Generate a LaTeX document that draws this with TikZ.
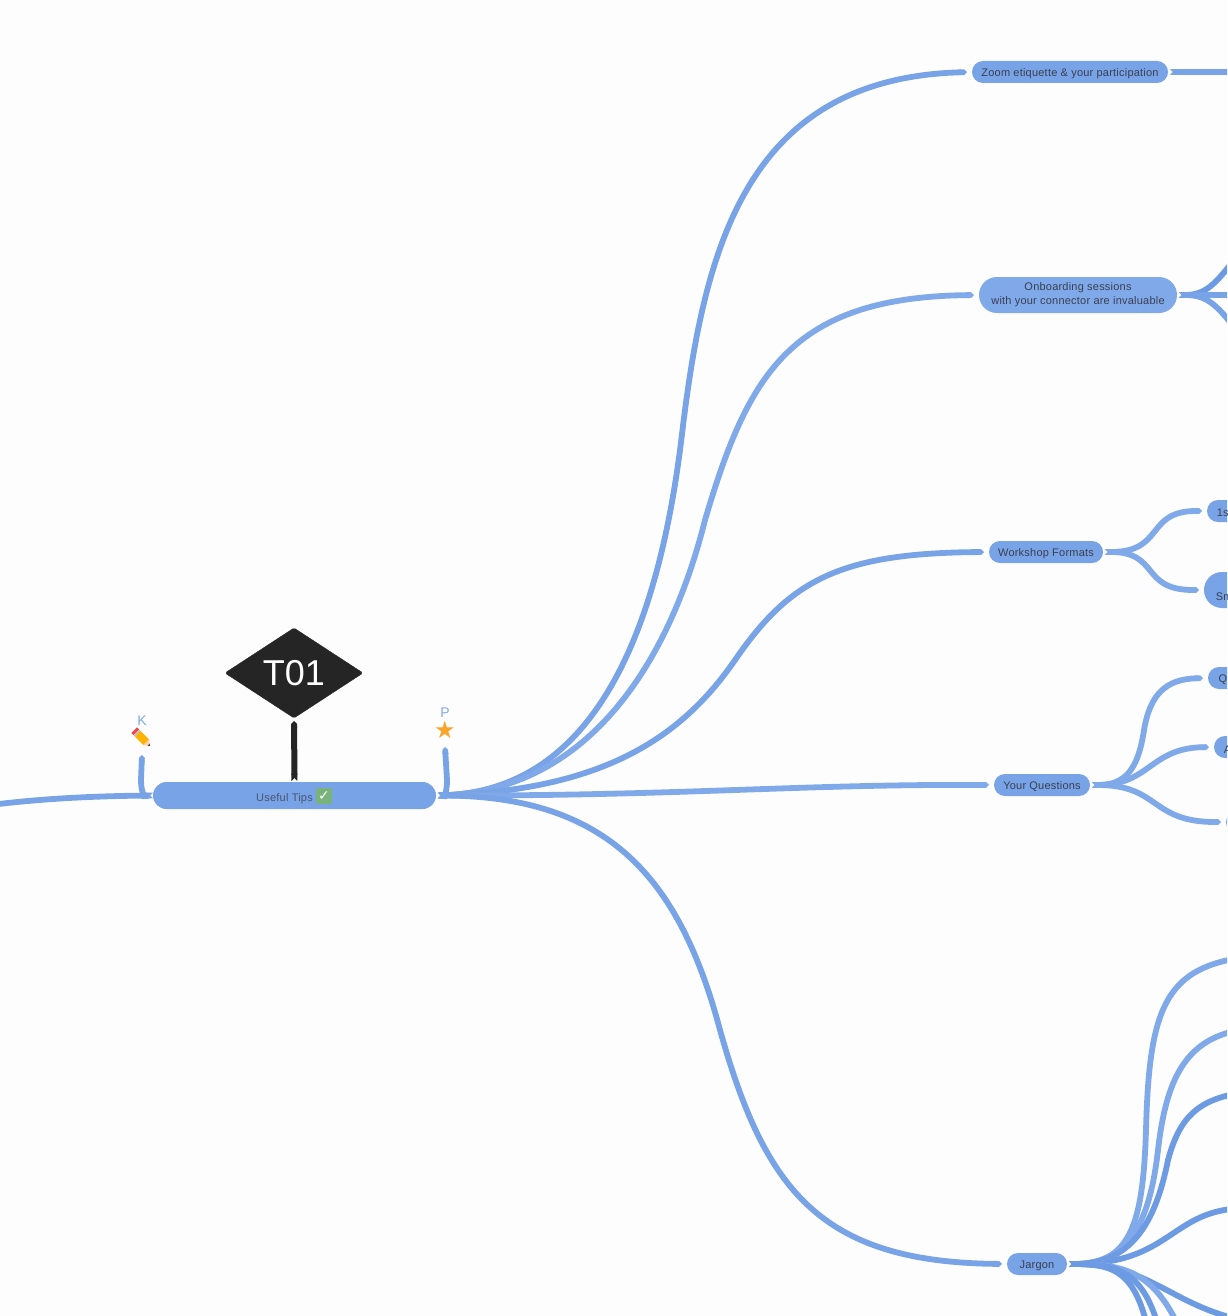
\documentclass[tikz,border=0pt]{standalone}
\usepackage{fontspec}
\setmainfont[LetterSpace=2]{Liberation Sans}
\newfontfamily\plainfont{Liberation Sans}
\newfontfamily\symbfont{DejaVu Sans}
\usetikzlibrary{arrows.meta,shapes.geometric,shapes.misc}

\definecolor{pagegray}{HTML}{FDFDFD}
\definecolor{mapblue}{HTML}{78A3E6}
\definecolor{softblue}{HTML}{80A9E9}
\definecolor{deepblue}{HTML}{6C9BE3}
\definecolor{inkgray}{HTML}{3A3F52}
\definecolor{tipsgray}{HTML}{4A5570}
\definecolor{signblack}{HTML}{252525}
\definecolor{checkgreen}{HTML}{79B27B}
\definecolor{staramber}{HTML}{F9A52B}

\tikzset{
	pillbox/.style={rounded rectangle, fill=mapblue, text=inkgray, inner sep=0pt, outer sep=0pt, font=\fontsize{11}{14}\selectfont},
	topicbox/.style={pillbox, align=center, execute at begin node={\rule{0pt}{12pt}}},
	cutbox/.style={pillbox, rounded rectangle right arc=none, anchor=west, minimum height=22pt, text width=40pt, inner xsep=8pt, align=left},
	branch/.style={line width=5.8pt, draw=mapblue, {Triangle Cap[reversed]}-{Triangle Cap}, shorten <=2pt, shorten >=5pt},
	tagtext/.style={text=softblue, font=\plainfont\fontsize{14}{14}\selectfont, inner sep=0pt}
}

\begin{document}
\begin{tikzpicture}[x=1pt,y=-1pt]

	\useasboundingbox (0,0) rectangle (1227,1316);
	\fill[pagegray] (0,0) rectangle (1227,1316);
	\clip (0,0) rectangle (1227,1316);

	% Coordinates
	\coordinate (rootEnd) at (-10,805);
	\coordinate (zoomEnd) at (1240,72);
	\coordinate (onbUp) at (1240,252);
	\coordinate (onbMid) at (1240,295);
	\coordinate (onbDown) at (1240,335);
	\coordinate (jargA) at (1245,957);
	\coordinate (jargB) at (1245,1029);
	\coordinate (jargC) at (1245,1092);
	\coordinate (jargD) at (1245,1208);
	\coordinate (jargE) at (1250,1322);
	\coordinate (jargF) at (1178,1325);
	\coordinate (jargG) at (1158,1325);
	\coordinate (jargH) at (1147,1325);

	% Topics
	\node[topicbox, text=tipsgray, minimum width=283pt, minimum height=27pt] (tips) at (294.5,795.5) {\rule{0pt}{14pt}Useful Tips\hspace{20pt}};
	\node[topicbox, minimum width=196pt, minimum height=22pt] (zoom) at (1070,72) {Zoom etiquette \& your participation};
	\node[topicbox, fill=softblue, minimum width=198pt, minimum height=36pt] (onboard) at (1078,295) {Onboarding sessions\\with your connector are invaluable};
	\node[topicbox, minimum width=114pt, minimum height=22pt] (formats) at (1046,552) {Workshop Formats};
	\node[topicbox, minimum width=96pt, minimum height=22pt] (questions) at (1042,785) {Your Questions};
	\node[topicbox, minimum width=60pt, minimum height=22pt] (jargon) at (1037,1264) {Jargon};

	% Cut off at the edge
	\node[cutbox] (first) at (1207,511) {\rule{0pt}{12pt}1s};
	\node[cutbox, minimum height=36pt] (small) at (1204,590) {\mbox{}\\[8pt]Sm};
	\node[cutbox] (quest) at (1208,678) {\rule{0pt}{12pt}Qu};
	\node[cutbox] (ans) at (1214,747) {\rule{0pt}{12pt}A};
	\node[cutbox] (other) at (1226,822) {};

	% Marks
	\node[diamond, aspect=1.52, fill=signblack, draw=signblack, rounded corners=1.5pt, inner sep=0pt, outer sep=0pt, minimum width=138pt, minimum height=90pt, text=white, font=\plainfont\fontsize{36}{36}\selectfont] (sign) at (294,673) {T01};
	\node[fill=checkgreen, rounded corners=2pt, minimum size=16pt, inner sep=0pt, text=white, font=\symbfont\bfseries\fontsize{14}{14}\selectfont] (check) at (324,796) {✓};
	\node[tagtext] (ktag) at (142,721) {K};
	\node[tagtext] (ptag) at (445,713) {P};
	\node[text=staramber, inner sep=0pt, font=\symbfont\fontsize{24}{24}\selectfont] (star) at (445,730) {★};
	\coordinate (pencil) at (142,738);
	\coordinate (kEnd) at (142,755);
	\coordinate (pEnd) at (445,747);

	% Pencil
	\begin{scope}[shift={(pencil)},rotate=-45]
		\fill[red!65!pink] (-11,-4) rectangle (-8,4);
		\fill[gray!50] (-8,-4) rectangle (-6,4);
		\fill[orange!60!yellow] (-6,-4) rectangle (6,4);
		\fill[orange!35!white] (6,-4) -- (11.5,0) -- (6,4) -- cycle;
		\fill[black!70] (9.5,-1.4) -- (11.5,0) -- (9.5,1.4) -- cycle;
	\end{scope}

	% Branches
	\draw[branch] (tips.east) .. controls (600,790) and (660,620) .. (682,434) .. controls (704,250) and (745,78) .. (zoom.west);
	\draw[branch, draw=softblue] (tips.east) .. controls (590,790) and (670,660) .. (705,520) .. controls (748,375) and (790,297) .. (onboard.west);
	\draw[branch] (tips.east) .. controls (600,790) and (680,740) .. (735,660) .. controls (790,580) and (840,553) .. (formats.west);
	\draw[branch, draw=softblue] (tips.east) .. controls (680,796) and (800,784) .. (questions.west);
	\draw[branch] (tips.east) .. controls (610,796) and (680,880) .. (720,1030) .. controls (765,1190) and (820,1262) .. (jargon.west);
	\draw[branch, shorten >=0pt, shorten <=2pt, {Triangle Cap}-{Triangle Cap[reversed]}] (rootEnd) .. controls (50,798) and (100,796) .. (tips.west);
	\draw[branch, shorten >=0pt, shorten <=4pt] (tips.west) .. controls (146,796) and (141,795) .. (141,780) -- (kEnd);
	\draw[branch, shorten >=0pt, shorten <=4pt] (tips.east) .. controls (443,796) and (447,795) .. (447,780) -- (pEnd);
	\draw[line width=6pt, draw=signblack, {Triangle Cap}-{Triangle Cap[reversed]}, shorten <=3pt, shorten >=1pt] (sign.south) -- (tips.north);

	% Onboarding and zoom
	\draw[branch, shorten >=0pt] (zoom.east) -- (zoomEnd);
	\draw[branch, deepblue, shorten >=0pt] (onboard.east) .. controls (1205,295) and (1215,285) .. (onbUp);
	\draw[branch, shorten >=0pt] (onboard.east) -- (onbMid);
	\draw[branch, shorten >=0pt] (onboard.east) .. controls (1205,295) and (1215,302) .. (onbDown);

	% Formats and questions
	\draw[branch, draw=softblue] (formats.east) .. controls (1165,552) and (1145,511) .. (first.west);
	\draw[branch, draw=softblue] (formats.east) .. controls (1160,552) and (1140,590) .. (small.west);
	\draw[branch, draw=softblue] (questions.east) .. controls (1125,785) and (1138,770) .. (1144,730) .. controls (1150,695) and (1165,679) .. (quest.west);
	\draw[branch, draw=softblue] (questions.east) .. controls (1150,785) and (1150,748) .. (ans.west);
	\draw[branch, draw=softblue] (questions.east) .. controls (1160,785) and (1150,822) .. (other.west);

	% Jargon
	\draw[branch, draw=softblue, shorten >=0pt] (jargon.east) .. controls (1130,1264) and (1143,1225) .. (1146,1130) .. controls (1149,1010) and (1165,970) .. (jargA);
	\draw[branch, draw=softblue, shorten >=0pt] (jargon.east) .. controls (1130,1264) and (1150,1220) .. (1158,1150) .. controls (1166,1080) and (1185,1040) .. (jargB);
	\draw[branch, deepblue, shorten >=0pt] (jargon.east) .. controls (1130,1264) and (1155,1225) .. (1168,1160) .. controls (1180,1115) and (1200,1100) .. (jargC);
	\draw[branch, deepblue, shorten >=0pt] (jargon.east) .. controls (1170,1264) and (1170,1212) .. (jargD);
	\draw[branch, deepblue, shorten >=0pt] (jargon.east) .. controls (1150,1264) and (1170,1305) .. (jargE);
	\draw[branch, draw=softblue, shorten >=0pt] (jargon.east) .. controls (1120,1264) and (1150,1270) .. (jargF);
	\draw[branch, deepblue, shorten >=0pt] (jargon.east) .. controls (1115,1264) and (1140,1270) .. (jargG);
	\draw[branch, deepblue, shorten >=0pt] (jargon.east) .. controls (1110,1264) and (1132,1270) .. (jargH);

\end{tikzpicture}
\end{document}
